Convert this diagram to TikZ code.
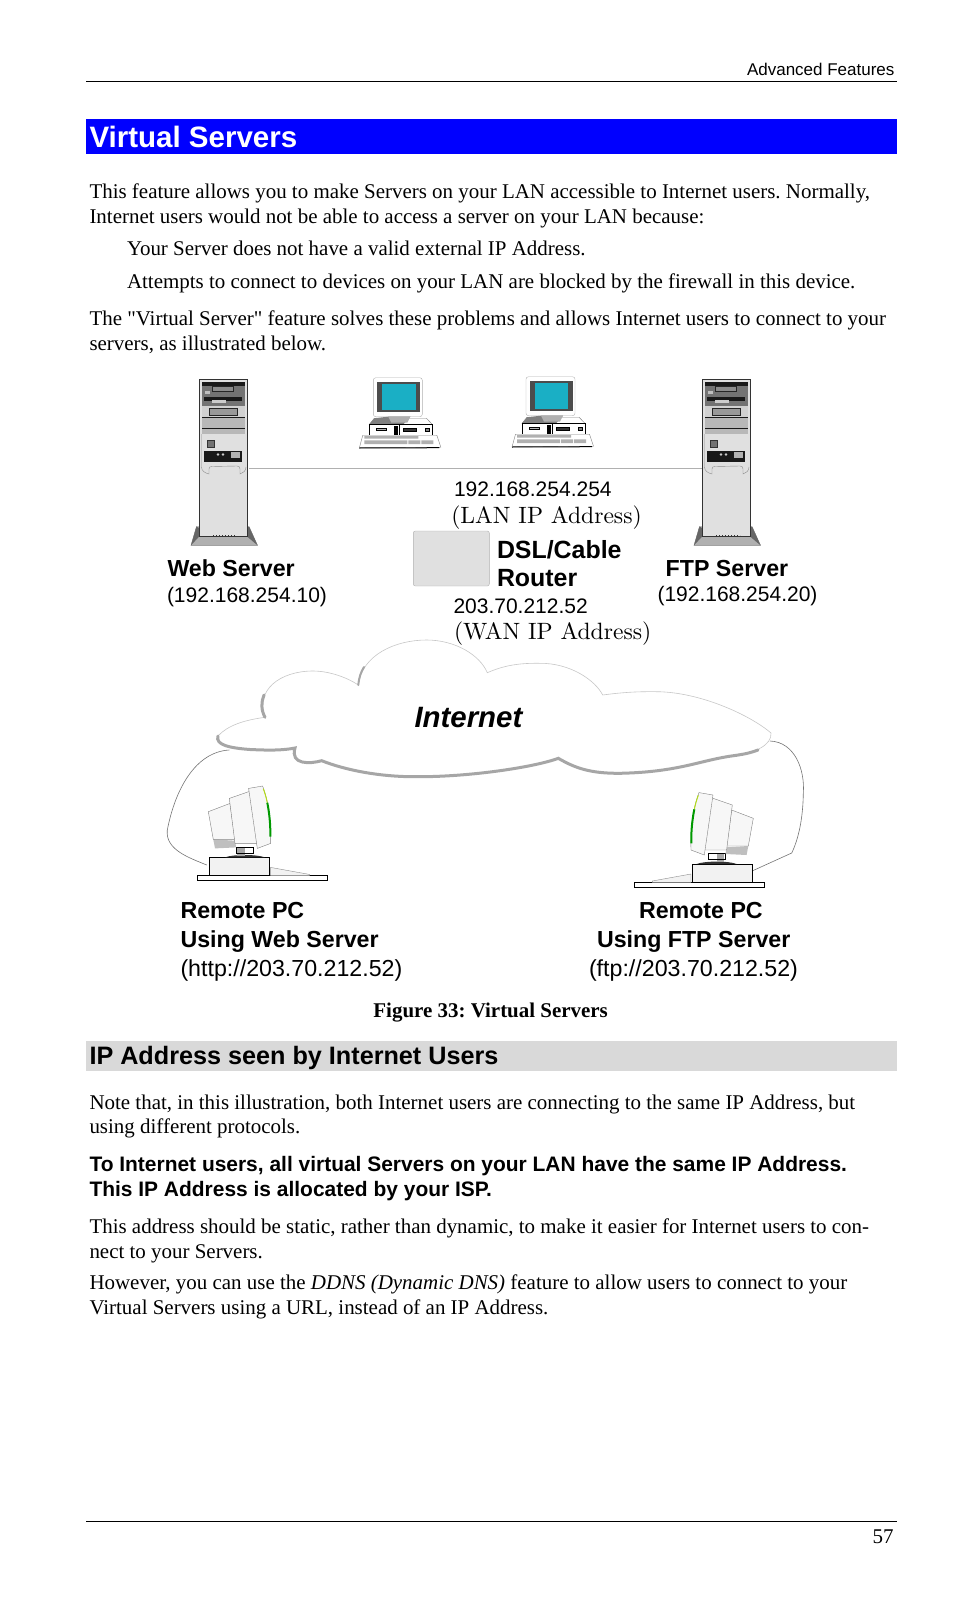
\documentclass[tikz,border=0pt]{standalone}
\usepackage{fontspec}
\newfontfamily\timesfont{Liberation Serif}
\newfontfamily\arialfont{Liberation Sans}
\newfontfamily\lmten[Extension=.otf]{lmroman10-regular}
\definecolor{blueb}{RGB}{0,0,255}
\definecolor{grayb}{RGB}{217,217,217}
\definecolor{cased}{RGB}{224,224,224}
\definecolor{screenb}{RGB}{26,175,197}
\definecolor{lineg}{RGB}{176,176,176}
\definecolor{cloudg}{RGB}{166,166,166}
\tikzset{
  txt/.style={anchor=base west,inner sep=0pt,outer sep=0pt},
  bodytxt/.style={txt,font=\fontsize{20.95}{24}\timesfont\frenchspacing},
  sanstxt/.style={txt,font=\fontsize{21}{24}\arialfont},
  boldtxt/.style={txt,font=\fontsize{23.2}{28}\arialfont\bfseries},
  lmtxt/.style={txt,font=\fontsize{23.6}{28}\lmten},
  towerbox/.pic={
    \draw[fill=lineg,draw=black!50] (-8,166.3) -- (-2.5,147.5) -- (50,147.5) -- (58.5,166.3) -- cycle;
    \fill[black!60] (-8,166.3) -- (-2.5,147.5) -- (0,149) -- (0,157.7) -- cycle;
    \fill[black!60] (58.5,166.3) -- (50,147.5) -- (48.3,149) -- (48.3,157.7) -- cycle;
    \draw[fill=cased,draw=black!80,line width=1] (0,0) rectangle (48.3,157.7);
    \fill[black!55] (3,2.7) rectangle (45.7,26.7);
    \fill[black!90] (3,2.7) rectangle (45.7,6.7);
    \draw[black!85,fill=black!45] (13,6.7) rectangle (34,12);
    \fill[black!25] (5.7,11.7) rectangle (10.7,15);
    \fill[black!90] (4.7,17.7) rectangle (43.3,22);
    \fill[black!20] (12.5,21) rectangle (27,24);
    \fill[black!18] (3,26.7) rectangle (45.7,37.7);
    \fill[black!28] (3,37.7) rectangle (45.7,55);
    \draw[black!85,fill=black!40] (10,29.3) rectangle (38.3,36);
    \draw[black!90] (3,37.7) -- (45.7,37.7) (3,49.3) -- (45.7,49.3);
    \draw[black!80,fill=black!55] (8,61.3) rectangle (14.7,67.7);
    \fill[black!90] (4.7,72) rectangle (43.3,83.3);
    \fill[black!30] (32,73.3) rectangle (40.7,79.3);
    \fill[black!20] (19,75.5) circle (1.3) (24,75.5) circle (1.3);
    \draw[black!45] (2.5,55) -- (2.5,88) .. controls (2.5,92) and (6,94) .. (10,95) -- (10,90) .. controls (10,88) and (11,87.5) .. (13,87.5) -- (38,87) .. controls (40,87) and (41,88) .. (41,90) -- (41,95) .. controls (44,94) and (47,92) .. (47,88);
    \draw[black!80,dotted,line width=1] (14,156.3) -- (38,156.3);
  },
  deskpc/.pic={
    \draw[lineg,fill=white,rounded corners=2.5] (0,0) rectangle (49,39);
    \fill[black!70] (4,4) rectangle (46.7,34);
    \fill[screenb] (8.7,6.3) rectangle (42.3,32.3);
    \draw[black!50,fill=white] (-4,46.7) -- (1,40.5) -- (53,40.5) -- (59,46.7) -- cycle;
    \fill[black!50] (-4,46.7) -- (1,40.5) -- (15,39) -- (37,39) -- (30,46.7) -- cycle;
    \fill[lineg] (15,39) -- (37,39) -- (34,45) -- (18,45) -- cycle;
    \draw[black,fill=white,line width=.8] (-4,46.7) rectangle (59,57.3);
    \draw[black,fill=black!30] (3,50) rectangle (13,52.5);
    \fill[black] (21,48.5) rectangle (25,57);
    \draw[black,fill=black!80] (30,50) rectangle (43,53);
    \draw[black] (26,47) -- (26,57);
    \draw[black,fill=black!50] (52,50) rectangle (56,53);
    \draw[black!50,fill=white] (-10.5,57.5) -- (63.5,57.5) -- (67.5,69.5) -- (-14,70.3) -- cycle;
    \draw[black,line width=1] (-14,70.3) -- (66,70);
    \fill[lineg] (-9,58.5) rectangle (45,61) (-9,62.7) rectangle (34,66.5) (35,62.7) rectangle (47,66.5) (48,62.7) rectangle (60,66.5);
  },
  farpc/.pic={
    \draw[black,fill=white,line width=.9] (0,-15) rectangle (130,-10.3);
    \draw[black!45,fill=black!5] (73.3,-15) -- (73.3,-23.3) -- (112,-16.3) -- (112,-15) -- cycle;
    \draw[black,fill=black!5,line width=.9] (12,-15) rectangle (72,-33.3);
    \fill[black!80] (27.7,-33.3) .. controls (35,-36.5) and (60,-36.5) .. (67.7,-33.3) -- cycle;
    \fill[black!35] (40,-44) rectangle (47.7,-35);
    \draw[black] (38.7,-44) rectangle (56,-38);
    \fill[black!25] (16,-51.3) -- (38,-50) -- (38.7,-43.3) -- (17.7,-42.3) -- cycle;
    \draw[black!50,fill=black!3] (11,-79) -- (32.7,-87.3) -- (37.7,-51.3) -- (16,-51.3) -- cycle;
    \draw[black!50,fill=black!3] (32,-92.3) -- (53.3,-99.7) -- (60,-47.3) -- (37.7,-47.3) -- cycle;
    \draw[black!50,fill=black!3] (51.3,-102.3) -- (65.3,-104.7) .. controls (71,-90) and (74,-70) .. (73.3,-47.3) -- (60,-42.3) -- cycle;
    \draw[yellow!70!green,line width=1] (66,-102) .. controls (67.5,-98) and (69,-93) .. (70,-88);
    \draw[green!60!black,line width=2] (70,-88) .. controls (72,-78) and (73.3,-66) .. (73,-54);
  },
}
\begin{document}
\begin{tikzpicture}[x=1pt,y=-1pt]
  \useasboundingbox (0,0) rectangle (954,1608);
  % page furniture
  \node[txt,font=\fontsize{17}{20}\arialfont] (header) at (747,76) {Advanced Features};
  \draw[line width=.8] (86,81) -- (897,81);
  \fill[blueb] (86,119) rectangle (897,154);
  \node[txt,font=\fontsize{29.5}{36}\arialfont\bfseries,text=white] (title) at (89.5,147.5) {Virtual Servers};
  \node[bodytxt] (para1a) at (89.5,198) {This feature allows you to make Servers on your LAN accessible to Internet users. Normally,};
  \node[bodytxt] (para1b) at (89.5,223) {Internet users would not be able to access a server on your LAN because:};
  \node[bodytxt] (para2) at (127,255) {Your Server does not have a valid external IP Address.};
  \node[bodytxt] (para3) at (127,288) {Attempts to connect to devices on your LAN are blocked by the firewall in this device.};
  \node[bodytxt] (para4a) at (89.5,325) {The "Virtual Server" feature solves these problems and allows Internet users to connect to your};
  \node[bodytxt] (para4b) at (89.5,350) {servers, as illustrated below.};
  % LAN
  \coordinate (lanleft) at (249,468.3);
  \coordinate (lanright) at (701.7,468.3);
  \draw[lineg,line width=1] (lanleft) -- (lanright);
  \pic at (199,379) {towerbox};
  \pic at (702,379) {towerbox};
  \pic at (373.3,377.7) {deskpc};
  \pic at (526,376.7) {deskpc};
  \draw[lineg,fill=cased,rounded corners=2] (413.3,531) rectangle (489.3,586);
  \node[sanstxt] (lanip) at (454,496.5) {192.168.254.254};
  \node[lmtxt] (lanlabel) at (451.3,523) {(LAN IP Address)};
  \node[txt,font=\fontsize{24.9}{28}\arialfont\bfseries] (dsl) at (497,558) {DSL/Cable};
  \node[txt,font=\fontsize{24.9}{28}\arialfont\bfseries] (router) at (497,586) {Router};
  \node[sanstxt] (wanip) at (453.5,613.3) {203.70.212.52};
  \node[lmtxt] (wanlabel) at (454,639.5) {(WAN IP Address)};
  \node[boldtxt] (webname) at (167.5,576.5) {Web Server};
  \node[sanstxt] (webip) at (167,602) {(192.168.254.10)};
  \node[boldtxt] (ftpname) at (665.7,576) {FTP Server};
  \node[sanstxt] (ftpip) at (657.5,601.7) {(192.168.254.20)};
  % cables
  \coordinate (cloudleft) at (229.3,750);
  \coordinate (pcleft) at (206.7,865);
  \coordinate (cloudright) at (770,741);
  \coordinate (pcright) at (752.7,870.7);
  \draw[black!55,line width=.6] (cloudleft) .. controls (195,752) and (175,790) .. (167.3,830) .. controls (165,850) and (190,858) .. (pcleft);
  \draw[black!55,line width=.6] (cloudright) .. controls (795,742) and (805,770) .. (803.3,793) .. controls (803,820) and (798,840) .. (791.7,853) -- (pcright);
  % cloud
  \draw[black!22,fill=white,line width=.6] (218,736) .. controls (228,725) and (245,720) .. (265,717.3)
    .. controls (255,690) and (280,671) .. (313,671) .. controls (330,671) and (348,678) .. (358.3,685)
    .. controls (362,655) and (395,640) .. (426.7,640) .. controls (455,640) and (480,655) .. (487.3,672.7)
    .. controls (505,665) and (520,663) .. (540,663.3) .. controls (570,663) and (595,680) .. (602.7,695)
    .. controls (625,692) and (640,691.5) .. (656.7,691.7) .. controls (700,692) and (750,715) .. (771,733)
    .. controls (772,745) and (755,753) .. (735,755.5) .. controls (700,760) and (680,772) .. (620,773.3)
    .. controls (590,773.5) and (575,768) .. (558.3,758.3) .. controls (535,767) and (470,777) .. (416.7,776.7)
    .. controls (380,777) and (345,770) .. (321.7,760.7) .. controls (310,764) and (290,765) .. (295,748)
    .. controls (280,751) and (262,750) .. (250,749.5) .. controls (230,748) and (215,745) .. (218,736) -- cycle;
  \draw[cloudg,line width=3,line cap=round] (758,750) .. controls (750,753) and (745,754) .. (735,755.5) .. controls (700,760) and (680,772) .. (620,773.3)
    .. controls (590,773.5) and (575,768) .. (558.3,758.3) .. controls (535,767) and (470,777) .. (416.7,776.7)
    .. controls (380,777) and (345,770) .. (321.7,760.7) .. controls (310,764) and (290,765) .. (295,748)
    .. controls (280,751) and (262,750) .. (250,749.5) .. controls (230,748) and (215,745) .. (218,736);
  \draw[cloudg,line width=3,line cap=round] (265,717.3) .. controls (261,710) and (261,702) .. (264,695);
  \draw[cloudg,line width=2,line cap=round] (358.3,685) .. controls (359,677) and (361,672) .. (364,667);
  \node[txt,font=\fontsize{29.4}{32}\arialfont\bfseries\itshape] (internet) at (414.5,727.8) {Internet};
  % remote PCs
  \pic at (197.3,890.7) {farpc};
  \pic[xscale=-1] at (764.3,897.3) {farpc};
  \node[boldtxt] (remotea) at (180.5,918) {Remote PC};
  \node[boldtxt] (usinga) at (180.5,947) {Using Web Server};
  \node[txt,font=\fontsize{23.2}{28}\arialfont] (urla) at (180.5,976) {(http://203.70.212.52)};
  \node[boldtxt] (remoteb) at (639,918) {Remote PC};
  \node[boldtxt] (usingb) at (597,947) {Using FTP Server};
  \node[txt,font=\fontsize{23.2}{28}\arialfont] (urlb) at (589,976) {(ftp://203.70.212.52)};
  \node[bodytxt,font=\fontsize{20.95}{24}\timesfont\bfseries\frenchspacing] (caption) at (373.4,1017) {Figure 33: Virtual Servers};
  % lower section
  \fill[grayb] (86,1041) rectangle (897,1071);
  \node[txt,font=\fontsize{25.2}{28}\arialfont\bfseries] (subtitle) at (89.5,1064) {IP Address seen by Internet Users};
  \node[bodytxt] (para5a) at (89.5,1109) {Note that, in this illustration, both Internet users are connecting to the same IP Address, but};
  \node[bodytxt] (para5b) at (89.5,1133) {using different protocols.};
  \node[txt,font=\fontsize{20.95}{24}\arialfont\bfseries] (para6a) at (89.5,1171) {To Internet users, all virtual Servers on your LAN have the same IP Address.};
  \node[txt,font=\fontsize{20.95}{24}\arialfont\bfseries] (para6b) at (89.5,1196) {This IP Address is allocated by your ISP.};
  \node[bodytxt] (para7a) at (89.5,1233) {This address should be static, rather than dynamic, to make it easier for Internet users to con-};
  \node[bodytxt] (para7b) at (89.5,1258) {nect to your Servers.};
  \node[bodytxt] (para8a) at (89.5,1289) {However, you can use the \textit{DDNS (Dynamic DNS)} feature to allow users to connect to your};
  \node[bodytxt] (para8b) at (89.5,1314) {Virtual Servers using a URL, instead of an IP Address.};
  \draw[line width=.8] (86,1521) -- (897,1521);
  \node[bodytxt,anchor=base east] (pagenum) at (893.5,1543) {57};
\end{tikzpicture}
\end{document}
